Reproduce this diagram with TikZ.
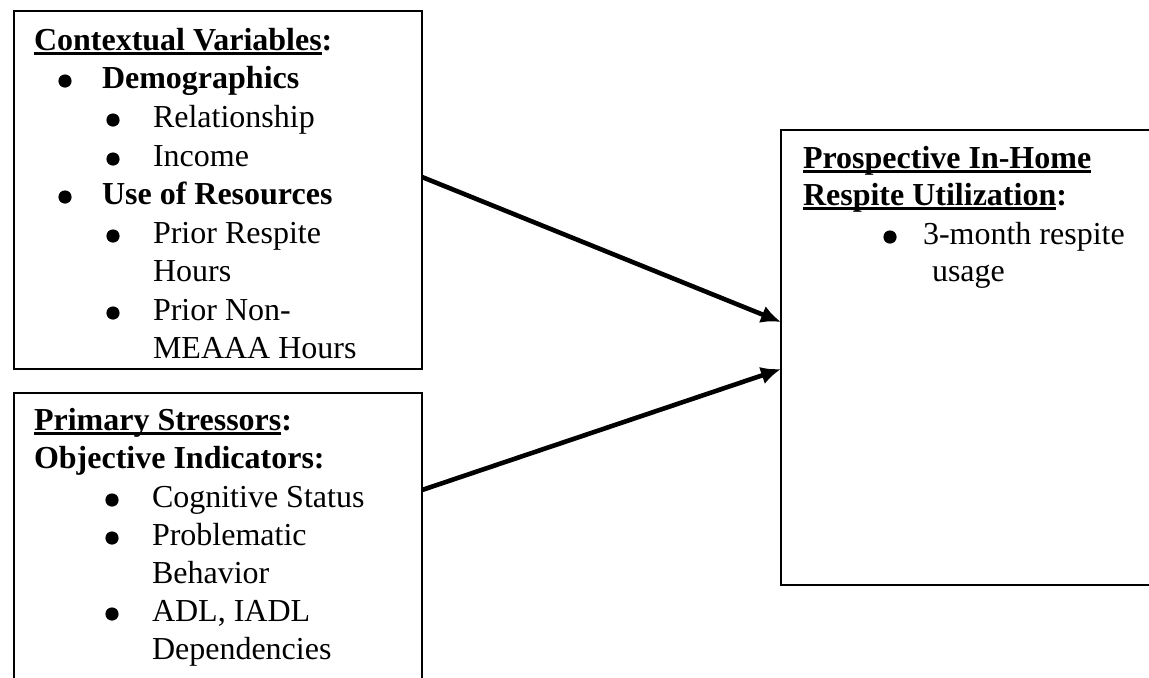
\documentclass[tikz,border=0pt]{standalone}
\usepackage{fontspec}
\setmainfont{Liberation Serif}
\usetikzlibrary{arrows.meta}
\newcommand{\ulx}[1]{\setbox0\hbox{#1}\rlap{\rule[-2.6pt]{\wd0}{1.4pt}}\box0}
\begin{document}
\begin{tikzpicture}[x=0.5pt,y=-0.5pt,
  box/.style={draw,line width=1pt,inner sep=0,outer sep=0,anchor=north west},
  txt/.style={anchor=base west,inner sep=0,outer sep=0,font=\fontsize{16}{19}\selectfont},
  bulletdot/.style={fill=black},
  arr/.style={line width=2.3pt,-{Latex[length=10pt,width=9pt]}}]
\useasboundingbox (0,0) rectangle (1149,677);
\clip (0,0) rectangle (1149,677);
% boxes
\node[box,minimum width=204pt,minimum height=179pt] (b1) at (14,11) {};
\node[box,minimum width=204pt,minimum height=200pt] (b2) at (14,393) {};
\node[box,minimum width=250pt,minimum height=227.5pt] (b3) at (781,130) {};
% bullets (list markers), centred 7px above each baseline
\foreach \bx/\by in {65/88,113/127,113/166,65/204,113/243,113/320,
                     112/507,112/545,112/621,890/244}
  \fill[bulletdot] (\bx,\by-7) circle[radius=3.3pt];
% box 1 text
\node[txt] (c0) at (34,50) {\bfseries\ulx{Contextual Variables}:};
\node[txt] (c1) at (102,88) {\bfseries Demographics};
\node[txt] (c2) at (153,127) {Relationship};
\node[txt] (c3) at (153,166) {Income};
\node[txt] (c4) at (102,204) {\bfseries Use of Resources};
\node[txt] (c5) at (153,243) {Prior Respite};
\node[txt] (c6) at (153,281) {Hours};
\node[txt] (c7) at (153,320) {Prior Non-};
\node[txt] (c8) at (153,358) {MEAAA Hours};
% box 2 text
\node[txt] (p0) at (34,430) {\bfseries\ulx{Primary Stressors}:};
\node[txt] (p1) at (34,468) {\bfseries Objective Indicators:};
\node[txt] (p2) at (152,507) {Cognitive Status};
\node[txt] (p3) at (152,545) {Problematic};
\node[txt] (p4) at (152,583) {Behavior};
\node[txt] (p5) at (152,621) {ADL, IADL};
\node[txt] (p6) at (152,659) {Dependencies};
% box 3 text
\node[txt] (r0) at (803,168) {\bfseries\ulx{Prospective In-Home}};
\node[txt] (r1) at (803,205) {\bfseries\ulx{Respite Utilization}:};
\node[txt] (r2) at (923,244) {3-month respite};
\node[txt] (r3) at (932,281) {usage};
% arrows
\draw[arr] ([yshift=-83pt]b1.north east) -- ([yshift=-96pt]b3.north west);
\draw[arr] ([yshift=-48.5pt]b2.north east) -- ([yshift=-119.5pt]b3.north west);
\end{tikzpicture}
\end{document}
